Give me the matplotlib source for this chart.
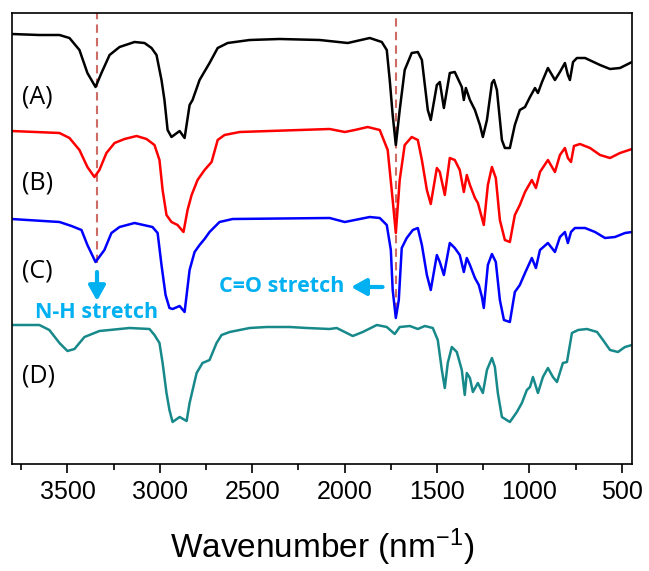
import matplotlib
matplotlib.use('Agg')
import matplotlib.pyplot as plt
import numpy as np

plt.rcParams['font.family'] = ['Liberation Sans', 'DejaVu Sans']
plt.rcParams['mathtext.default'] = 'regular'

# wavenumber (cm-1) and intensity (a.u., offset already included)
wn_a = [3803, 3652, 3543, 3489, 3435, 3392, 3348, 3316, 3272, 3218, 3137, 3083, 3045, 3018,
        2991, 2975, 2958, 2937, 2893, 2866, 2839, 2823, 2785, 2731, 2687, 2633, 2514, 2352,
        2135, 1983, 1864, 1799, 1772, 1756, 1740, 1723, 1702, 1675, 1637, 1604, 1582, 1550,
        1534, 1501, 1485, 1463, 1431, 1404, 1366, 1355, 1344, 1322, 1295, 1268, 1252, 1230,
        1203, 1192, 1176, 1149, 1133, 1106, 1079, 1052, 1024, 997, 970, 954, 932, 900, 862,
        835, 808, 792, 781, 764, 743, 699, 618, 564, 510, 445]
int_a = [430, 429, 429, 426, 414, 391, 377, 391, 409, 417, 422, 421, 416, 409,
         384, 364, 334, 327, 333, 326, 359, 364, 384, 401, 416, 421, 424, 425,
         424, 421, 426, 422, 414, 384, 349, 319, 354, 394, 411, 412, 404, 354,
         344, 379, 382, 356, 391, 392, 377, 364, 376, 364, 354, 339, 327, 344,
         381, 384, 374, 324, 316, 316, 339, 354, 357, 367, 376, 371, 382, 396, 384,
         392, 401, 389, 384, 402, 406, 406, 399, 395, 396, 402]

wn_b = [3803, 3543, 3489, 3435, 3392, 3354, 3327, 3289, 3245, 3191, 3126, 3072, 3029, 3002,
        2985, 2964, 2937, 2904, 2872, 2850, 2828, 2796, 2758, 2720, 2687, 2650, 2568, 2081,
        1999, 1945, 1875, 1810, 1767, 1740, 1723, 1702, 1675, 1637, 1604, 1582, 1555, 1534,
        1501, 1485, 1458, 1431, 1404, 1377, 1355, 1339, 1322, 1295, 1279, 1257, 1247, 1225,
        1203, 1182, 1160, 1133, 1106, 1079, 1052, 1024, 987, 965, 943, 900, 862, 835, 808,
        792, 775, 759, 727, 672, 618, 564, 510, 445]
int_b = [333, 331, 326, 314, 297, 287, 294, 311, 321, 325, 328, 325, 319, 304,
         274, 249, 242, 239, 232, 254, 269, 284, 294, 302, 324, 329, 332, 335,
         332, 334, 337, 334, 314, 264, 231, 284, 319, 327, 324, 304, 274, 260,
         296, 292, 269, 306, 304, 294, 272, 289, 279, 266, 261, 246, 239, 279,
         297, 286, 244, 224, 222, 249, 259, 272, 284, 276, 292, 304, 292, 309, 316,
         306, 302, 318, 320, 316, 309, 306, 311, 315]

wn_c = [3803, 3543, 3478, 3424, 3392, 3348, 3300, 3262, 3218, 3137, 3040, 3012, 2991, 2969,
        2948, 2931, 2893, 2866, 2839, 2812, 2785, 2758, 2731, 2677, 2606, 2081, 1999, 1864,
        1810, 1772, 1750, 1740, 1723, 1707, 1691, 1664, 1631, 1604, 1582, 1555, 1534, 1501,
        1485, 1463, 1431, 1404, 1377, 1355, 1339, 1322, 1295, 1274, 1257, 1247, 1225, 1203,
        1182, 1160, 1138, 1106, 1079, 1052, 1024, 987, 965, 943, 900, 862, 835, 808, 792,
        775, 754, 699, 645, 591, 537, 483, 445]
int_c = [245, 242, 238, 234, 219, 202, 214, 231, 237, 241, 237, 231, 199, 169,
         156, 155, 158, 152, 194, 212, 219, 225, 232, 242, 245, 246, 242, 247,
         246, 239, 214, 174, 146, 164, 216, 226, 234, 236, 219, 189, 174, 209,
         202, 189, 221, 216, 209, 192, 206, 199, 186, 179, 167, 156, 199, 210,
         202, 164, 144, 142, 172, 179, 191, 206, 196, 214, 221, 212, 227, 232, 221,
         232, 236, 236, 232, 226, 227, 231, 232]

wn_d = [3803, 3652, 3598, 3543, 3500, 3462, 3408, 3327, 3272, 3164, 3056, 3029, 3002, 2985,
        2964, 2948, 2931, 2893, 2855, 2839, 2801, 2769, 2731, 2693, 2666, 2622, 2514, 2422,
        2297, 2205, 2081, 2043, 1956, 1902, 1826, 1772, 1729, 1702, 1647, 1604, 1566, 1523,
        1496, 1474, 1458, 1442, 1420, 1393, 1366, 1350, 1339, 1322, 1306, 1279, 1252, 1230,
        1203, 1187, 1171, 1149, 1106, 1068, 1041, 1014, 997, 981, 954, 927, 900, 873, 851,
        819, 797, 770, 737, 689, 634, 602, 564, 521, 483, 445]
int_d = [139, 139, 134, 121, 113, 115, 127, 133, 134, 136, 135, 129, 121, 101,
         71, 54, 42, 47, 43, 61, 91, 101, 104, 121, 129, 132, 136, 137,
         137, 136, 135, 136, 128, 132, 139, 137, 130, 137, 138, 135, 138, 136,
         124, 94, 76, 101, 117, 112, 94, 69, 91, 86, 72, 81, 71, 94,
         106, 97, 71, 47, 42, 52, 61, 74, 77, 87, 71, 87, 96, 87, 82,
         101, 102, 131, 134, 135, 132, 124, 114, 112, 117, 119]

labels = ['(A)', '(B)', '(C)', '(D)']
label_y = [367, 281, 193, 88]
colors = ['black', '#ff0000', '#0000ff', '#17898a']
peaks = [3340, 1720]

fig = plt.figure(figsize=(6.49, 5.71), dpi=100)
ax = fig.add_axes([12 / 649, 107 / 571, 620 / 649, 451 / 571])

for wn, it, c in zip([wn_a, wn_b, wn_c, wn_d], [int_a, int_b, int_c, int_d], colors):
    ax.plot(wn, it, color=c, lw=1.8, solid_joinstyle='round')

for lab, ly in zip(labels, label_y):
    ax.text(3745, ly, lab, fontsize=18, family=['Open Sans', 'DejaVu Sans'], va='center', ha='left')

# dashed guide lines through the N-H and C=O bands
ax.axvline(peaks[0], ymin=0.445, ymax=1, color='#cd6b64', ls=(0, (4, 2.5)), lw=1.5, zorder=0)
ax.axvline(peaks[1], ymin=0.34, ymax=1, color='#cd6b64', ls=(0, (4, 2.5)), lw=1.5, zorder=0)

blue = '#00b0f0'
arrow = dict(arrowstyle='-|>,head_width=0.5,head_length=0.9', color=blue, lw=3, shrinkA=0, shrinkB=0)
ax.annotate('', xy=(3340, 163), xytext=(3340, 192), arrowprops=arrow)
ax.text(3345, 151, 'N-H stretch', color=blue, fontsize=15.5, fontweight='bold',
        family=['Open Sans', 'DejaVu Sans'], ha='center', va='center')
ax.annotate('', xy=(1965, 177), xytext=(1795, 177), arrowprops=arrow)
ax.text(2000, 177, 'C=O stretch', color=blue, fontsize=15.5, fontweight='bold',
        family=['Open Sans', 'DejaVu Sans'], ha='right', va='center')

ax.set_xlim(3800, 445)
ax.set_ylim(0, 451)
ax.set_yticks([])
ax.set_xticks(np.arange(3500, 400, -500))
ax.set_xticks(np.arange(3750, 400, -250), minor=True)
ax.tick_params(axis='x', which='major', length=6.5, width=1.2, labelsize=18, pad=5)
ax.tick_params(axis='x', which='minor', length=4, width=1.2)
for s in ax.spines.values():
    s.set_linewidth(1.2)
ax.set_xlabel('Wavenumber (nm$^{-1}$)', fontsize=24, labelpad=16)

fig.savefig('out.png', dpi=100)
